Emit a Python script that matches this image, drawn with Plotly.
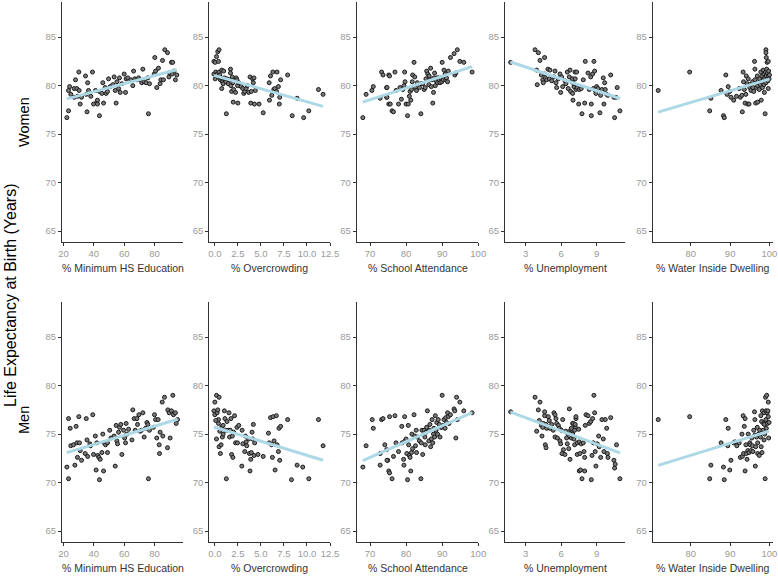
import numpy as np
import plotly.graph_objects as go

# ---------------- data ----------------
# Panel 1: % Minimum HS Education
hs_x_w = [22.2,23.3,23.3,24,24.8,27,27,27.9,28.8,30.1,30.3,29.2,31,31.9,34.5,35,35.5,35.9,36.5,38,39.1,39.8,41.1,42,42.4,42.4,43.7,43.7,45.3,45.9,46.4,47.5,48.1,49,49.7,50.8,52.5,53.4,54.1,54.7,55.2,56.3,56.9,57.4,58.5,60,60.9,61.3,62.4,64.4,65.7,66.2,67,68.4,69.5,70.5,71.6,72.3,73.2,74.5,75.6,76,76.7,79.8,80.2,80.7,81.5,82.6,83.7,84.2,85.3,85.9,86.8,88.6,89.5,89.9,91.2,91.6,92.9,93.8,94.7,92]
hs_y_w = [76.7,77.4,79.5,79.9,79.1,79.7,78.8,80.6,79.7,81.4,79.5,78.9,78.1,78.8,81.0,79.1,77.3,80.3,79.5,78.9,81.4,78.1,79.5,78.3,78.5,78.1,76.9,79.4,79.2,80.3,78.2,79.8,79.2,79.4,80.7,79.9,80.1,80.9,79.5,78.2,80.4,79.7,80.8,79.3,80.2,81.2,79.3,80.7,80.8,80.6,80.0,81.5,80.7,80.6,80.8,80.6,80.3,81.7,80.4,80.3,80.8,77.1,80.2,81.2,82.9,81.5,79.8,81.8,80.2,80.6,82.6,80.6,83.7,83.4,80.9,81.3,82.4,81.2,81.5,80.6,81.1,82.4]
hs_x_m = [22.2,23.3,23.3,24.4,24.8,26.6,27.5,28.3,28.8,29.2,30.1,30.5,31,31.9,34.3,35,35.5,35.9,37.4,37.8,39.3,39.8,41,41.5,42,42.6,43.3,43.7,44.2,45.3,45.9,46.4,46.8,47.7,49,49,50.5,51.3,53.4,54.1,54.7,55.2,55.6,56.3,56.9,57.8,58.5,59.6,60.3,60.9,61.3,61.8,62.9,65.1,65.7,66.6,67.3,68.4,68.8,69.7,70.5,71.4,72.3,73.2,74.1,75,75.6,76,76.7,79.3,80,80.7,81.5,82.4,83.1,83.3,83.7,85.1,85.5,86.6,88.6,88.8,89.7,90.3,91.2,92.1,92.5,93.8,94.3,95.2]
hs_y_m = [71.6,76.6,70.4,75.6,73.8,73.9,71.8,75.8,74.1,72.6,76.8,74.1,73.3,72.3,73.0,76.6,74.4,72.7,74.0,73.8,77.0,72.9,74.8,71.3,74.1,72.8,72.6,70.3,72.4,73.1,75.0,71.2,74.1,73.9,73.1,74.1,75.4,74.6,74.8,71.7,75.9,74.3,74.0,75.2,75.7,76.0,72.9,75.4,74.6,74.1,76.1,75.0,75.5,74.4,77.5,76.6,75.4,76.6,76.0,77.0,75.3,75.4,77.2,74.7,75.6,76.2,76.0,70.4,75.4,75.7,77.0,76.5,74.6,76.5,73.9,73.0,75.2,78.3,74.8,78.8,73.6,77.5,77.2,74.6,77.4,79.0,77.0,77.2,76.1,76.5]

# Panel 2: % Overcrowding
oc_x_w = [-0.1,0.04,0.18,0.32,0.46,0.4,-0.1,0.04,0.1,0.25,0.32,0.46,0.54,0.6,0.68,0.75,0.75,0.82,0.9,0.96,1.04,1.1,1.2,1.25,1.32,1.46,1.6,1.7,1.7,1.75,1.82,1.9,1.96,2.0,2.04,2.14,2.25,2.32,2.4,2.46,2.5,2.6,2.86,3.04,3.14,3.25,3.4,3.54,3.68,3.82,3.9,3.96,4.1,4.18,4.25,4.3,4.4,4.8,5.25,5.9,5.93,6.04,6.18,6.3,6.4,6.5,6.7,6.75,6.9,7.0,7.04,7.14,7.9,8.4,8.93,9.64,10.2,11.25,11.75]
oc_y_w = [82.5,82.4,83.0,83.5,83.7,82.5,81.2,80.7,81.4,81.2,80.9,81.4,81.1,80.6,80.8,81.6,79.7,80.4,80.2,81.5,80.8,80.6,80.4,77.1,80.7,80.2,80.6,81.7,81.3,80.0,79.4,80.9,80.3,78.3,79.6,80.6,79.3,80.8,80.6,80.0,78.2,80.3,79.9,79.7,79.2,79.4,79.7,80.0,79.3,80.9,78.2,79.4,80.7,80.3,80.8,78.1,79.5,78.1,77.2,80.3,78.5,81.0,79.0,81.4,79.6,79.7,79.4,81.4,79.9,78.1,78.8,80.6,81.1,76.9,78.7,76.7,77.4,79.6,79.1]
oc_x_m = [0,-0.1,0,0.18,0.25,0.32,0.4,0.46,0.1,0.18,0.4,0.46,0.54,0.6,0.68,0.75,0.82,0.9,0.9,1.04,1.1,1.18,1.25,1.32,1.46,1.54,1.6,1.68,1.75,1.82,1.9,1.96,2.04,2.14,2.25,2.4,2.46,2.6,2.93,2.96,3.04,3.25,3.32,3.4,3.46,3.68,3.75,3.82,3.9,3.96,4.04,4.1,4.18,4.25,4.32,4.68,5.25,5.82,5.9,6.04,6.18,6.25,6.32,6.43,6.54,6.68,6.75,6.9,6.96,7.04,7.14,7.9,8.32,8.93,9.54,10.2,11.25,11.75]
oc_y_m = [78.3,77.4,77.0,79.0,77.2,77.5,76.5,78.8,76.4,74.5,76.1,73.7,75.3,73.0,73.9,75.7,74.7,75.9,75.0,77.4,76.6,75.4,70.4,76.3,75.4,77.2,74.7,75.4,76.6,72.9,74.8,72.6,75.2,76.9,74.1,75.7,74.1,75.9,71.7,75.4,74.0,73.2,74.8,74.2,73.8,74.5,73.0,71.2,72.4,73.1,75.2,74.5,76.0,72.8,74.1,72.9,72.7,75.1,74.1,76.7,73.9,72.6,76.8,74.3,71.3,76.9,73.9,73.2,75.6,72.3,75.8,76.5,70.3,71.8,71.6,70.4,76.5,73.8]

# Panel 3: % School Attendance
sa_x_w = [68.0,68.9,70.5,70.9,72.8,73.2,74.6,74.6,75.2,75.2,73.6,74.7,74.7,75.4,75.6,76.1,76.5,76.9,77.2,77.9,78.3,78.7,79.1,79.4,79.6,79.7,80,80.4,80.6,80.9,81.1,81.3,81.5,81.7,81.8,82.2,82.4,82.6,82.9,83.1,83.7,84.1,84.2,84.6,85.0,85.3,85.5,85.7,86.0,86.3,86.4,86.6,86.8,87.0,87.2,87.4,87.6,87.7,87.9,88.1,88.3,88.5,88.7,88.9,89.2,89.4,89.6,89.9,90.0,90.3,90.5,90.8,91.0,91.2,91.5,91.7,92.3,93.3,93.5,93.8,94.2,94.9,96.0,98.3]
sa_y_w = [76.7,79.1,79.5,79.9,78.7,81.4,79.8,78.8,81.1,78.1,81.1,79.8,78.8,81.0,78.1,77.4,77.3,81.4,79.5,78.1,79.8,78.6,79.6,80.0,81.4,80.4,78.1,76.9,78.1,78.9,79.4,78.5,79.6,80.4,81.1,82.4,80.9,79.8,79.5,80.3,79.8,77.1,80.2,80.2,79.6,79.8,80.7,81.5,81.2,80.1,81.0,80.6,81.8,79.9,80.6,78.2,79.3,80.8,81.3,80.0,80.5,80.8,80.3,80.8,80.6,80.3,80.8,80.4,82.4,80.6,81.6,81.2,80.6,80.8,80.4,81.5,82.9,83.3,81.1,81.3,83.7,82.5,82.4,81.4]
sa_x_m = [68.0,68.9,70.6,70.9,73.2,72.8,74.9,75.2,75.4,74.6,72.8,73.6,74.1,74.7,75.4,76.1,76.5,76.9,77.2,77.9,78.8,78.9,79.3,79.4,79.6,79.7,80.0,80.2,80.4,80.6,80.7,80.9,81.1,81.3,81.5,81.6,81.8,82.2,82.4,82.6,82.8,82.9,83.1,83.7,84.1,84.2,84.4,84.6,85.0,85.2,85.3,85.5,85.7,85.9,86.3,86.4,86.6,86.8,87.0,87.2,87.4,87.6,87.7,87.9,88.1,88.3,88.5,88.7,88.9,89.2,89.4,89.6,89.9,90.0,90.3,90.5,90.8,91.0,91.2,91.5,91.7,91.9,92.3,93.3,93.5,93.8,94.0,94.2,94.9,96.0,98.3]
sa_y_m = [71.6,73.8,76.5,75.6,76.5,71.8,72.3,71.2,76.8,73.4,73.0,76.6,73.9,72.3,71.0,70.4,72.7,76.9,74.1,73.2,75.8,74.1,72.4,71.8,76.8,74.3,74.5,73.0,70.3,75.9,73.9,72.8,72.6,71.2,73.1,75.0,73.5,77.0,74.8,73.8,75.4,73.1,74.7,74.3,70.4,74.1,75.4,72.9,75.4,74.7,73.9,75.2,75.7,77.4,74.3,75.4,76.0,73.7,74.5,76.5,74.1,75.0,75.6,74.7,76.9,75.4,76.2,75.0,76.5,76.0,74.7,75.7,75.7,79.0,75.9,76.5,75.6,76.7,76.2,77.2,76.8,76.1,77.0,77.6,77.4,74.6,78.8,76.5,78.3,77.4,77.2]

# Panel 4: % Unemployment
un_x_w = [1.73,3.79,3.93,4.07,3.98,4.21,4.32,4.44,4.49,4.6,4.6,4.66,4.77,4.88,5.0,5.05,5.2,5.39,5.48,5.56,5.62,5.76,5.9,5.96,6.04,6.13,6.32,6.4,6.52,6.6,6.69,6.75,6.8,6.89,6.97,7.0,7.08,7.17,7.25,6.97,7.08,7.0,7.19,7.31,7.36,7.48,7.53,7.7,7.76,7.87,7.99,8.04,8.27,8.38,8.5,8.55,8.55,8.66,8.72,8.77,8.83,8.88,8.94,9.0,9.11,9.28,9.34,9.45,9.56,9.62,9.68,9.73,9.85,9.96,10.19,10.46,10.52,10.63,10.74,10.97]
un_y_w = [82.4,83.7,81.6,83.4,80.1,82.6,81.1,80.6,80.3,82.9,81.2,80.8,80.6,81.7,80.7,81.6,80.5,80.9,81.5,80.3,79.8,80.7,81.2,79.3,80.9,79.9,80.5,80.2,81.4,79.7,80.9,81.6,79.4,80.4,79.2,80.6,79.9,81.4,79.6,80.7,80.2,78.5,80.7,81.4,79.8,78.1,79.6,79.7,77.1,80.6,78.2,82.5,81.3,79.6,80.9,78.1,76.9,81.2,79.7,82.5,81.5,79.5,79.2,79.9,79.7,77.2,79.0,79.6,80.8,78.1,80.3,79.6,79.1,79.0,81.1,78.8,76.7,78.8,79.8,77.4]
un_x_m = [1.73,3.79,3.93,4.07,4.21,4.15,4.32,4.38,4.44,4.49,4.6,4.6,4.66,4.72,4.72,4.77,4.91,5.0,5.05,5.2,5.33,5.39,5.48,5.48,5.56,5.62,5.68,5.76,5.85,5.9,5.96,6.02,6.07,6.13,6.19,6.32,6.4,6.46,6.52,6.58,6.64,6.69,6.75,6.8,6.86,6.92,6.97,7.0,7.14,7.2,7.25,7.36,7.53,6.86,6.97,7.03,7.08,7.14,7.19,7.25,7.36,7.48,7.53,7.59,7.64,7.7,7.76,7.87,7.93,7.99,7.99,8.04,8.1,8.27,8.38,8.5,8.55,8.61,8.66,8.72,8.77,8.83,8.88,8.94,9.05,9.17,9.22,9.34,9.45,9.56,9.62,9.73,9.85,9.91,9.96,10.19,10.46,10.52,10.57,10.68,10.97]
un_y_m = [77.3,78.8,75.3,77.5,78.3,76.4,75.9,74.8,75.7,76.1,76.9,77.3,73.9,73.6,76.0,75.6,76.8,76.4,75.6,76.0,75.4,77.2,77.0,74.7,76.6,76.1,74.6,75.9,75.6,74.3,74.0,75.4,73.0,76.5,73.4,72.9,75.3,74.6,74.0,75.0,73.5,77.6,72.4,75.4,74.6,75.4,76.1,74.8,73.9,75.7,76.6,72.9,71.2,75.6,75.0,76.1,74.5,75.4,76.0,76.8,74.1,75.5,74.2,73.0,71.3,74.0,70.4,74.1,73.2,72.6,71.2,75.9,77.0,76.9,76.1,76.3,70.3,72.8,76.6,74.1,79.0,77.2,73.2,71.7,74.0,74.8,73.7,72.6,76.5,74.5,73.2,76.5,75.6,73.0,72.6,76.7,72.3,71.5,71.9,73.9,70.4]

# Panel 5: % Water Inside Dwelling
wa_x_w = [71.7,79.7,84.8,85.1,87.7,88.3,88.5,88.9,89.2,89.5,89.9,90.2,90.9,91.6,92.3,92.6,93.0,93.1,93.3,93.4,93.6,93.8,94.0,94.1,94.3,94.5,94.6,94.8,95.0,95.1,95.3,95.5,95.7,95.8,96.0,96.2,96.3,96.3,96.5,96.7,96.9,97.0,97.0,97.2,97.4,97.5,97.7,97.8,97.9,98.0,98.1,98.2,98.4,98.5,98.6,98.6,98.7,98.8,98.9,99.0,99.1,99.1,99.1,99.2,99.2,99.3,99.4,99.4,99.5,99.6,99.7,99.7,99.7,99.8,99.9,100]
wa_y_w = [79.5,81.4,77.4,78.7,79.5,76.9,76.7,81.1,79.1,79.9,79.4,78.8,78.5,78.9,79.7,78.8,79.0,77.3,81.4,80.4,79.6,78.2,79.1,81.0,80.2,78.1,80.7,78.1,79.8,80.1,79.5,80.0,80.4,79.8,79.4,82.5,81.7,80.6,78.2,79.8,81.0,80.0,78.3,80.3,79.6,80.7,80.1,81.4,78.5,80.4,81.0,79.8,81.6,80.6,81.2,80.1,79.3,80.8,77.1,81.4,83.7,80.3,83.4,82.9,81.0,81.7,82.4,80.7,81.3,80.5,82.5,81.0,79.7,81.5,80.7,81.1]
wa_x_m = [71.7,79.7,84.8,85.1,87.7,88.3,88.5,88.9,89.4,89.5,89.9,90.2,90.9,91.2,91.7,92.3,92.6,93.0,93.1,93.3,93.4,93.6,93.8,93.8,94.0,94.1,94.3,94.5,94.6,94.8,95.0,95.1,95.3,95.5,95.7,95.8,96.0,96.2,96.3,96.3,96.4,96.5,96.7,96.9,97.0,97.0,97.2,97.4,97.5,97.7,97.8,97.9,98.0,98.1,98.2,98.4,98.5,98.6,98.6,98.7,98.8,98.9,99.0,99.1,99.1,99.2,99.3,99.4,99.5,99.6,99.7,99.7,99.8,99.9]
wa_y_m = [76.5,76.8,70.4,71.8,74.1,71.6,70.3,76.5,73.8,75.6,71.3,72.3,74.1,74.2,73.8,74.1,72.6,75.0,72.7,76.9,73.0,75.8,76.6,71.2,73.9,73.0,72.4,73.3,75.0,73.1,74.1,73.9,73.3,74.6,73.8,73.2,75.4,77.3,76.5,74.9,71.7,73.7,74.7,75.7,73.0,74.1,75.0,72.8,75.4,74.7,76.9,73.7,76.3,73.1,77.4,75.4,76.1,74.4,77.2,76.0,75.0,70.4,78.8,77.4,76.5,75.6,79.0,77.2,76.1,77.4,78.3,76.8,74.6,76.2]

x_titles = ["% Minimum HS Education", "% Overcrowding", "% School Attendance",
            "% Unemployment", "% Water Inside Dwelling"]
row_labels = ["Women", "Men"]
y_title = "Life Expectancy at Birth (Years)"
y_ticks = [65, 70, 75, 80, 85]
x_tickvals = [[20, 40, 60, 80], [0, 2.5, 5, 7.5, 10, 12.5], [70, 80, 90, 100], [3, 6, 9], [80, 90, 100]]
x_ticktext = [["20", "40", "60", "80"], ["0.0", "2.5", "5.0", "7.5", "10.0", "12.5"],
              ["70", "80", "90", "100"], ["3", "6", "9"], ["80", "90", "100"]]

women = [(hs_x_w, hs_y_w), (oc_x_w, oc_y_w), (sa_x_w, sa_y_w), (un_x_w, un_y_w), (wa_x_w, wa_y_w)]
men = [(hs_x_m, hs_y_m), (oc_x_m, oc_y_m), (sa_x_m, sa_y_m), (un_x_m, un_y_m), (wa_x_m, wa_y_m)]

# ---------------- layout geometry ----------------
W, H = 778, 576
col_px = [(62, 183), (209.3, 330), (356.7, 478.3), (505, 625), (652.7, 773)]
row_px = [(2, 242), (302, 542)]
x_ranges = [[19.0, 98.8], [-0.6, 12.5], [66.3, 100.02], [1.25, 11.4], [70.3, 100.9]]
y_range = [63.875, 88.625]

FONT = "Liberation Sans, Arial, sans-serif"
fig = go.Figure()
layout = dict(width=W, height=H, autosize=False, margin=dict(l=0, r=0, t=0, b=0, pad=0),
              paper_bgcolor="white", plot_bgcolor="white", showlegend=False,
              font=dict(family=FONT))
annotations = []

idx = 0
for r, rows in enumerate([women, men]):
    for c, (xs, ys) in enumerate(rows):
        idx += 1
        xa = "x" if idx == 1 else f"x{idx}"
        ya = "y" if idx == 1 else f"y{idx}"
        xs_a = np.array(xs, dtype=float)
        ys_a = np.array(ys, dtype=float)
        fig.add_trace(go.Scatter(
            x=xs_a, y=ys_a, mode="markers", xaxis=xa, yaxis=ya,
            marker=dict(size=4, color="#7a7a7a",
                        line=dict(color="#1a1a1a", width=1)),
            hoverinfo="skip"))
        b, a = np.polyfit(xs_a, ys_a, 1)
        lx = np.array([xs_a.min(), xs_a.max()])
        fig.add_trace(go.Scatter(
            x=lx, y=a + b * lx, mode="lines", xaxis=xa, yaxis=ya,
            line=dict(color="#ADD8E6", width=3), hoverinfo="skip"))
        x0, x1 = col_px[c]
        y0, y1 = row_px[r]
        axis_common = dict(showgrid=False, zeroline=False, showline=True,
                           automargin=False, ticklabeloverflow="allow",
                           linecolor="#333333", linewidth=1.1, ticks="outside",
                           ticklen=3, tickwidth=1, tickcolor="#333333",
                           tickfont=dict(size=9.5, color="#9a9a9a", family=FONT))
        layout["xaxis" if idx == 1 else f"xaxis{idx}"] = dict(
            domain=[x0 / W, x1 / W], range=x_ranges[c], anchor=ya,
            tickmode="array", tickvals=x_tickvals[c], ticktext=x_ticktext[c],
            **axis_common)
        layout["yaxis" if idx == 1 else f"yaxis{idx}"] = dict(
            domain=[1 - y1 / H, 1 - y0 / H], range=y_range, anchor=xa,
            tickmode="array", tickvals=y_ticks, **axis_common)
        annotations.append(dict(
            text=x_titles[c], xref="paper", yref="paper",
            x=(x0 + x1) / 2 / W, y=1 - (y1 + 26) / H, showarrow=False,
            xanchor="center", yanchor="middle",
            font=dict(size=10.5, color="#333333", family=FONT)))

# row labels
annotations.append(dict(text=row_labels[0], xref="paper", yref="paper",
                        x=24 / W, y=1 - 122 / H, showarrow=False, textangle=-90,
                        xanchor="center", yanchor="middle",
                        font=dict(size=14.5, color="black", family=FONT)))
annotations.append(dict(text=row_labels[1], xref="paper", yref="paper",
                        x=24 / W, y=1 - 420 / H, showarrow=False, textangle=-90,
                        xanchor="center", yanchor="middle",
                        font=dict(size=14.5, color="black", family=FONT)))
annotations.append(dict(text=y_title, xref="paper", yref="paper",
                        x=10 / W, y=1 - 295 / H, showarrow=False, textangle=-90,
                        xanchor="center", yanchor="middle",
                        font=dict(size=16, color="black", family=FONT)))
layout["annotations"] = annotations
fig.update_layout(**layout)
fig.write_html("out.html", config={"displayModeBar": False},
               post_script="document.body.style.margin='0';document.body.style.overflow='hidden';")
